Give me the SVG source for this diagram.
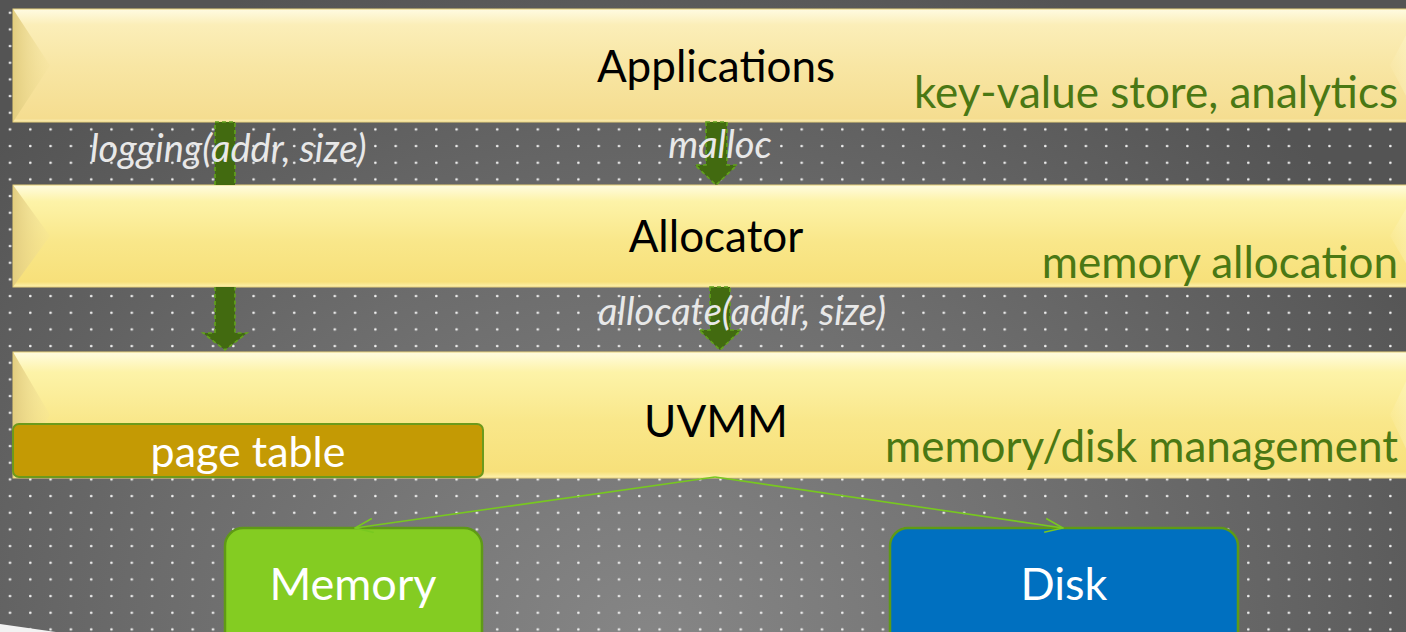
<svg xmlns="http://www.w3.org/2000/svg" width="1406" height="632" viewBox="0 0 1406 632">
  <style>
    .title { font-family: Lato, "Open Sans", sans-serif; font-size: 44px; fill: #000; text-anchor: middle; }
    .role { font-family: Lato, "Open Sans", sans-serif; font-size: 44px; fill: #4a7814; text-anchor: end; }
    .call { font-family: Lato, "Open Sans", sans-serif; font-size: 38px; font-style: italic; fill: #e8e8e8; }
    .boxlabel { font-family: Lato, "Open Sans", sans-serif; font-size: 45px; fill: #fff; text-anchor: middle; }
    .bar-edge { fill: none; stroke: #e6cf78; stroke-width: 1; }
    .block { fill: #426a10; }
    .block-edge { fill: none; stroke: #62a31c; stroke-width: 1.6; stroke-dasharray: 4 3; }
    .link { fill: none; stroke: #78c820; stroke-width: 1.6; marker-end: url(#openHead); }
  </style>
  <defs>
    <radialGradient id="bgShade" gradientUnits="userSpaceOnUse" cx="650" cy="640" r="900" gradientTransform="translate(650 640) scale(1 0.8) translate(-650 -640)">
      <stop offset="0" stop-color="#868686"/>
      <stop offset="0.55" stop-color="#6c6c6c"/>
      <stop offset="1" stop-color="#545454"/>
    </radialGradient>
    <pattern id="dots" patternUnits="userSpaceOnUse" x="0" y="0" width="20.3" height="16.667">
      <circle cx="10" cy="12.7" r="1.3" fill="#f2f2f2"/>
    </pattern>
    <linearGradient id="paleFill" x1="0" y1="0" x2="0" y2="1">
      <stop offset="0" stop-color="#fffbe2"/>
      <stop offset="0.14" stop-color="#fbeeb8"/>
      <stop offset="0.5" stop-color="#f8e6a4"/>
      <stop offset="0.97" stop-color="#f5dd90"/>
      <stop offset="1" stop-color="#fbefb8"/>
    </linearGradient>
    <linearGradient id="warmFill" x1="0" y1="0" x2="0" y2="1">
      <stop offset="0" stop-color="#fffce0"/>
      <stop offset="0.16" stop-color="#fdf3a8"/>
      <stop offset="0.55" stop-color="#f9e78a"/>
      <stop offset="0.95" stop-color="#f7e07a"/>
      <stop offset="1" stop-color="#fdf2b0"/>
    </linearGradient>
    <linearGradient id="leftBevel" x1="0" y1="0" x2="1" y2="0">
      <stop offset="0" stop-color="#e2cd80"/>
      <stop offset="1" stop-color="#f3e29a" stop-opacity="0.2"/>
    </linearGradient>
    <linearGradient id="rightBevel" x1="0" y1="0" x2="1" y2="0">
      <stop offset="0" stop-color="#fff6c8" stop-opacity="0.1"/>
      <stop offset="1" stop-color="#fffbe0" stop-opacity="0.5"/>
    </linearGradient>
    <marker id="openHead" viewBox="0 0 20 16" refX="19" refY="8" markerWidth="20" markerHeight="16" markerUnits="userSpaceOnUse" orient="auto">
      <path d="M1 1 L19 8 L1 15" fill="none" stroke="#78c820" stroke-width="1.6"/>
    </marker>
  </defs>

  <!-- backdrop: shaded grey with a dotted grid -->
  <rect width="1406" height="632" fill="url(#bgShade)"/>
  <rect width="1406" height="632" fill="url(#dots)"/>
  <polygon points="0,624 56,632 0,632" fill="#f2f2f2"/>

  <!-- layer: Applications -->
  <g id="applications">
    <rect x="13" y="9" width="1410" height="113" fill="url(#paleFill)"/>
    <polygon points="13,9 50,65.5 13,122" fill="url(#leftBevel)"/>
    <polygon points="1420,9 1390,65.5 1420,122" fill="url(#rightBevel)"/>
    <rect x="13" y="9" width="1410" height="113" class="bar-edge"/>
    <text x="716" y="82" class="title">Applications</text>
    <text x="1398" y="108" class="role">key-value store, analytics</text>
  </g>

  <!-- layer: Allocator -->
  <g id="allocator">
    <rect x="13" y="185" width="1410" height="102" fill="url(#warmFill)"/>
    <polygon points="13,185 50,236 13,287" fill="url(#leftBevel)"/>
    <polygon points="1420,185 1390,236 1420,287" fill="url(#rightBevel)"/>
    <rect x="13" y="185" width="1410" height="102" class="bar-edge"/>
    <text x="716" y="252" class="title">Allocator</text>
    <text x="1398" y="278" class="role">memory allocation</text>
  </g>

  <!-- layer: UVMM -->
  <g id="uvmm">
    <rect x="13" y="352" width="1410" height="126" fill="url(#warmFill)"/>
    <polygon points="13,352 50,415 13,478" fill="url(#leftBevel)"/>
    <polygon points="1420,352 1390,415 1420,478" fill="url(#rightBevel)"/>
    <rect x="13" y="352" width="1410" height="126" class="bar-edge"/>
    <text x="716" y="437" class="title">UVMM</text>
    <text x="1398" y="462" class="role">memory/disk management</text>
  </g>

  <!-- page table, inside the UVMM layer -->
  <g id="page-table">
    <rect x="13" y="424" width="470" height="53" rx="6" fill="#c49a04" stroke="#6c9a1c" stroke-width="2"/>
    <text x="248" y="467" class="boxlabel" style="font-size:43px">page table</text>
  </g>

  <!-- backing stores -->
  <g id="memory">
    <rect x="225" y="528" width="257" height="124" rx="18" fill="#84cc22" stroke="#5f9a16" stroke-width="2.5"/>
    <text x="353" y="600" class="boxlabel">Memory</text>
  </g>
  <g id="disk">
    <rect x="890" y="528" width="348" height="124" rx="18" fill="#0070c0" stroke="#5f9a16" stroke-width="2.5"/>
    <text x="1064" y="600" class="boxlabel">Disk</text>
  </g>

  <!-- connectors: block arrows between layers, thin arrows to the stores -->
  <g id="connectors">
    <!-- logging: runs behind the Allocator layer -->
    <rect x="215" y="122" width="20" height="63" class="block"/>
    <path d="M215 185 V122 H235 V185" class="block-edge"/>
    <path d="M215 287 V333 H203 L225 350 L247 333 H235 V287 Z" class="block"/>
    <path d="M215 287 V333 H203 L225 350 L247 333 H235 V287" class="block-edge"/>
    <!-- malloc -->
    <path d="M706 122 V165 H695 L716 185 L737 165 H727 V122 Z" class="block"/>
    <path d="M706 122 V165 H695 L716 185 L737 165 H727 V122 Z" class="block-edge"/>
    <!-- allocate -->
    <path d="M710 287 V330 H699 L720 350 L741 330 H730 V287 Z" class="block"/>
    <path d="M710 287 V330 H699 L720 350 L741 330 H730 V287 Z" class="block-edge"/>

    <text x="90" y="162" class="call">logging(addr, size)</text>
    <text x="720" y="158" class="call" text-anchor="middle">malloc</text>
    <text x="742" y="325" class="call" text-anchor="middle">allocate(addr, size)</text>

    <path d="M715 477 L355 528" class="link"/>
    <path d="M715 477 L1063 528" class="link"/>
  </g>
</svg>
